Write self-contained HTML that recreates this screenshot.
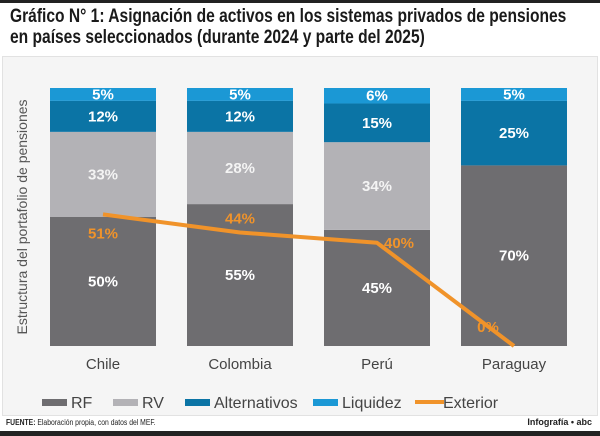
<!DOCTYPE html>
<html><head><meta charset="utf-8">
<style>
html,body{margin:0;padding:0;background:#fff;}
body{width:600px;height:436px;position:relative;overflow:hidden;font-family:"Liberation Sans",sans-serif;}
#topbar{position:absolute;left:0;top:0;width:600px;height:3px;background:#222;}
#title{position:absolute;left:10px;top:6px;font-family:"Liberation Sans Narrow","Liberation Sans",sans-serif;font-size:19px;line-height:21px;color:#1a1a1a;font-weight:bold;transform:scaleX(0.82);transform-origin:left top;white-space:nowrap;}
#panel{position:absolute;left:2px;top:56px;width:594px;height:358px;background:#f5f5f5;border:1px solid #e2e2e2;}
#footer{position:absolute;left:6px;top:418px;font-size:8px;color:#222;transform:scaleX(0.85);transform-origin:left top;white-space:nowrap;}
#credit{position:absolute;right:8px;top:417px;font-size:9px;font-weight:bold;color:#222;}
#botbar{position:absolute;left:0;top:431px;width:600px;height:5px;background:#222;}
svg{position:absolute;left:0;top:0;}
</style></head><body>
<div id="topbar"></div>
<div id="title">Gráfico N° 1: Asignación de activos en los sistemas privados de pensiones<br>en países seleccionados (durante 2024 y parte del 2025)</div>
<div id="panel"></div>
<svg id="chart" width="600" height="436"></svg>
<div id="footer"><b>FUENTE:</b> Elaboración propia, con datos del MEF.</div>
<div id="credit">Infografía • abc</div>
<div id="botbar"></div>
<script>
const categories = ["Chile","Colombia","Perú","Paraguay"];
const rf = [50,55,45,70];
const rv = [33,28,34,0];
const alternativos = [12,12,15,25];
const liquidez = [5,5,6,5];
const exterior = [51,44,40,0];
const seriesNames = ["RF","RV","Alternativos","Liquidez"];

const NS="http://www.w3.org/2000/svg";
const svg=document.getElementById('chart');
const plotTop=88, plotBottom=346, x0=50, step=137, barW=106;
const colors=["#6e6d70","#b3b2b6","#0b74a5","#1b98d5"];
const lineColor="#f0932a";
function y(v){return plotBottom-(v/100)*(plotBottom-plotTop);}
function h(v){return (v/100)*(plotBottom-plotTop);}
function xc(i){return x0+i*step+barW/2;}
function mk(tag,attrs){const e=document.createElementNS(NS,tag);for(const k in attrs)e.setAttribute(k,attrs[k]);svg.appendChild(e);return e;}

const yt=mk('text',{x:0,y:0,transform:'translate(27,217) rotate(-90)','text-anchor':'middle','font-size':'14',fill:'#555'});
yt.textContent='Estructura del portafolio de pensiones';



const series=[rf,rv,alternativos,liquidez];
categories.forEach((c,i)=>{
  let cum=0;
  series.forEach((s,k)=>{
    const v=s[i];
    if(v<=0){return;}
    const r=mk('rect',{x:x0+i*step,y:y(cum+v),width:barW,height:h(v),fill:colors[k]});
    
    
    const t=mk('text',{x:xc(i),y:y(cum+v/2)+5,'text-anchor':'middle','font-size':'15','font-weight':'bold',fill:k===1?'#f4f4f4':'#fff'});
    t.textContent=v+'%';
    
    
    cum+=v;
  });
  const lab=mk('text',{x:xc(i),y:369,'text-anchor':'middle','font-size':'15',fill:'#444'});
  lab.textContent=c;
  
  
});

const pts=exterior.map((v,i)=>xc(i)+','+y(v)).join(' ');
const pl=mk('polyline',{points:pts,fill:'none',stroke:lineColor,'stroke-width':'4','stroke-linejoin':'round'});


const labDx=[0,0,22,-26];
const labDy=[24,-9,5,-14];
exterior.forEach((v,i)=>{
  const t=mk('text',{x:xc(i)+labDx[i],y:y(v)+labDy[i],'text-anchor':'middle','font-size':'15','font-weight':'bold',fill:lineColor});
  t.textContent=v+'%';
  
  
});

const legX=[42,113,185,313,415];
const legNames=["RF","RV","Alternativos","Liquidez","Exterior"];
legNames.forEach((n,k)=>{
  if(k<4){
    const r=mk('rect',{x:legX[k],y:399,width:25,height:7,fill:colors[k]});
    
    
  }else{
    const l=mk('line',{x1:legX[k],y1:402,x2:legX[k]+29,y2:402,stroke:lineColor,'stroke-width':'4'});
    
    
  }
  const t=mk('text',{x:legX[k]+(k<4?29:28),y:408,'font-size':'16',fill:'#444'});
  t.textContent=n;
  
  
});
</script>
</body></html>
